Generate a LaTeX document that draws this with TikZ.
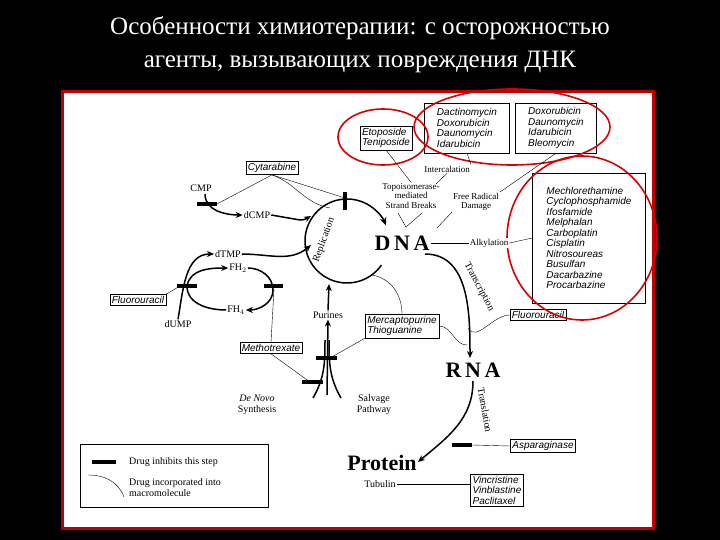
\documentclass[tikz,border=0pt]{standalone}
\usepackage{fontspec}
\setmainfont{Liberation Serif}
\newfontfamily\drugfont{Liberation Sans}
\usetikzlibrary{arrows.meta}
\begin{document}
\begin{tikzpicture}[x=1pt,y=-1pt,
 drug/.style={draw,thin,font=\drugfont\itshape\fontsize{10}{10.5}\selectfont,align=left,inner sep=2pt},
 lbl/.style={font=\fontsize{9}{9.5}\selectfont,align=center,inner sep=1pt},
 big/.style={font=\bfseries\fontsize{22}{22}\selectfont,inner sep=1pt},
 path/.style={line width=1.5pt,-{Stealth[length=7pt,width=6pt]}},
 bar/.style={line width=3.5pt},
 link/.style={thin},
 redring/.style={draw=red!85!black,line width=1.6pt}]
\fill[black] (0,0) rectangle (720,540);
\node[text=white,font=\fontsize{25}{33}\selectfont,align=center] (title) at (360,45)
 {Особенности химиотерапии: с осторожностью\\агенты, вызывающих повреждения ДНК};
\draw[fill=white,draw=red!75!black,line width=3pt] (62,92) rectangle (653,528);

% drug boxes
\node[drug] (eto) at (386,138) {Etoposide\\Teniposide};
\node[drug,minimum width=85pt,minimum height=50pt] (dact) at (467,128) {Dactinomycin\\Doxorubicin\\Daunomycin\\Idarubicin};
\node[drug,minimum width=81pt,minimum height=50pt] (doxo) at (556,128) {Doxorubicin\\Daunomycin\\Idarubicin\\Bleomycin};
\node[drug,minimum width=113pt,minimum height=130pt] (alk) at (589,238) {Mechlorethamine\\Cyclophosphamide\\Ifosfamide\\Melphalan\\Carboplatin\\Cisplatin\\Nitrosoureas\\Busulfan\\Dacarbazine\\Procarbazine};
\node[drug] (cyt) at (272,168) {Cytarabine};
\node[drug] (fu1) at (138,300) {Fluorouracil};
\node[drug] (fu2) at (538,315) {Fluorouracil};
\node[drug] (mtx) at (271,348) {Methotrexate};
\node[drug] (mp) at (402,326) {Mercaptopurine\\Thioguanine};
\node[drug] (asp) at (543,446) {Asparaginase};
\node[drug] (vin) at (497,490) {Vincristine\\Vinblastine\\Paclitaxel};

% red rings
\draw[redring] (383,137) ellipse (45 and 28);
\draw[redring] (512,127) ellipse (98 and 38);
\draw[redring] (582,238) ellipse (75 and 82);

% big labels
\node[big] (dna) at (402,243) {D\,N\,A};
\node[big] (rna) at (473,370) {R\,N\,A};
\node[big] (prot) at (382,463) {Protein};

% small labels
\node[lbl] (inter) at (447,169) {Intercalation};
\node[lbl] (topo) at (411,196) {Topoisomerase-\\mediated\\Strand Breaks};
\node[lbl] (frd) at (476,202) {Free Radical\\Damage};
\node[lbl,fill=white] (alky) at (489,243) {Alkylation};
\node[lbl,font=\fontsize{10}{10}\selectfont] (cmp) at (201,188) {CMP};
\node[lbl,font=\fontsize{10}{10}\selectfont] (dcmp) at (257,215) {dCMP};
\node[lbl,font=\fontsize{10}{10}\selectfont] (dtmp) at (228,254) {dTMP};
\node[lbl,font=\fontsize{10}{10}\selectfont] (fh2) at (238,268) {FH$_2$};
\node[lbl,font=\fontsize{10}{10}\selectfont] (fh4) at (236,310) {FH$_4$};
\node[lbl,font=\fontsize{10}{10}\selectfont] (dump) at (178,324) {dUMP};
\node[lbl,font=\fontsize{10}{10}\selectfont] (pur) at (328,315) {Purines};
\node[lbl,font=\fontsize{10}{11}\selectfont] (denovo) at (257,405) {\textit{De Novo}\\Synthesis};
\node[lbl,font=\fontsize{10}{11}\selectfont] (salv) at (374,405) {Salvage\\Pathway};
\node[lbl,font=\fontsize{10}{10}\selectfont] (tub) at (380,484) {Tubulin};

% replication ring
\draw[line width=1.5pt,-{Stealth[length=8pt,width=7pt]}] (347,241) ++(35:42) arc[start angle=35,end angle=338,radius=42];
\node[lbl,rotate=70,font=\fontsize{10}{10}\selectfont] (repl) at (324,240) {Replication};
\coordinate (ringbot) at (372,275);

% transcription / translation
\draw[path] (425,254) to[out=0,in=90] (470,358);
\node[lbl,rotate=-62,font=\fontsize{10}{10}\selectfont] (trsc) at (479,287) {Transcription};
\draw[path] (473,381) to[out=-90,in=40] (418,462);
\node[lbl,rotate=-80,font=\fontsize{10}{10}\selectfont] (trsl) at (485,410) {Translation};

% nucleotide paths
\draw[path] (205,194) to[out=-90,in=180] (dcmp.west);
\draw[path] (dcmp.east) -- (300,220) to[out=0,in=-150] (311,216);
\draw[path] (dump.north) to[out=80,in=180] (dtmp.west);
\draw[path] (dtmp.east) to[out=0,in=-140] (311,245);
\draw[path] (187,286) to[out=80,in=180] (fh2.west);
\draw[path] (fh2.east) to[out=0,in=90] (273,290) to[out=-90,in=0] (fh4.east);
\draw[line width=1.5pt] (fh4.west) to[out=180,in=-90] (187,286);
\draw[path] (327,395) -- (pur.south);
\draw[path] (pur.north) -- (329,284);
\draw[line width=1.5pt] (313,398) to[out=60,in=-90] (325,340);
\draw[line width=1.5pt] (341,398) to[out=120,in=-90] (329,340);

% inhibition bars
\draw[bar] (197,204) -- (217,204) coordinate (b1);
\draw[bar] (177,286) -- (197,286) coordinate (b2);
\draw[bar] (264,286) -- (283,286) coordinate (b3);
\draw[bar] (345,192) -- (345,210) coordinate (b4);
\draw[bar] (316,358) -- (337,358) coordinate (b5);
\draw[bar] (302,382) -- (323,382) coordinate (b6);
\draw[bar] (452,445) -- (472,445) coordinate (b7);

% drug links
\draw[link] (cyt.south) -- (b1);
\draw[link] (cyt.south) -- (345,198);
\draw[link] (cyt.south) to[out=-20,in=170] (330,208);
\draw[link] (fu1.north east) -- (180,286);
\draw[link] (mtx.north) -- (274,289);
\draw[link] (mtx.south) -- (310,382);
\draw[link] (mp.south west) -- (330,358);
\draw[link] (ringbot) to[out=-10,in=90] (mp.north);
\draw[link] (mp.east) to[out=0,in=180] (467,345);
\draw[link] (fu2.west) to[out=180,in=-60] (468,328);
\draw[link] (asp.west) -- (472,445);
\draw[link] (tub.east) -- (vin.west|-tub.east);
\draw[link] (eto.south) -- (topo.north);
\draw[link] (398,213) -- (406,227) -- (422,213);
\draw[link] (dact.south) -- (inter.north east);
\draw[link] (inter.south) -- (436,184);
\draw[link] (doxo.south) -- (frd.north east);
\draw[link] (frd.south west) -- (437,228);
\draw[link] (dna.east) -- (alky.west);
\draw[link] (alky.east) -- (alk.west);

% legend
\node[draw,thin,minimum width=188pt,minimum height=63pt] (leg) at (174,476) {};
\draw[bar] (92,462) -- (116,462) coordinate (lb);
\node[lbl,anchor=west,font=\fontsize{10}{11}\selectfont] (l1) at (128,462) {Drug inhibits this step};
\draw[link] (88,475) to[out=0,in=110] (124,497) coordinate (lc);
\node[lbl,anchor=west,align=left,font=\fontsize{10}{11}\selectfont] (l2) at (128,488) {Drug incorporated into\\macromolecule};
\end{tikzpicture}
\end{document}
